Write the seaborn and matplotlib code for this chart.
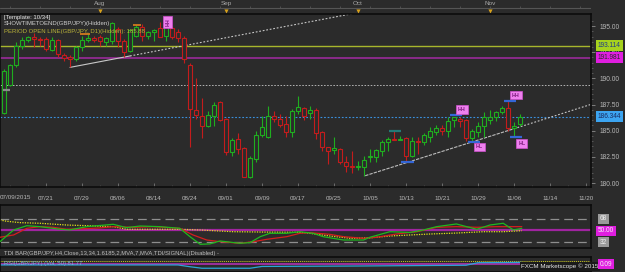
import numpy as np
import pandas as pd
import matplotlib
matplotlib.use('Agg')
import matplotlib.pyplot as plt
import seaborn as sns

# ============================================================
# Data (GBP/JPY daily, FXCM Marketscope)
# ============================================================
first_bar = 1   # bar 0 = 07/09/2015, cut off at the left edge

opens = [186.66, 189.40, 191.31, 193.12, 193.70, 193.92, 193.76, 193.76, 192.71, 193.67,
         192.27, 192.07, 191.85, 192.97, 193.67, 193.82, 193.92, 193.44, 193.60, 194.72,
         193.60, 192.58, 194.08, 194.94, 194.08, 194.40, 194.81, 194.08, 194.81, 194.40,
         193.86, 191.31, 186.98, 186.44, 185.48, 186.44, 187.71, 186.12, 182.93, 184.20,
         183.35, 180.55, 182.30, 184.56, 184.37, 186.44, 186.12, 185.64, 184.84, 186.91,
         187.17, 186.66, 187.01, 184.84, 183.41, 183.20, 183.25, 181.98, 181.66, 181.50,
         181.56, 182.50, 182.52, 183.10, 183.90, 184.20, 184.10, 184.30, 182.60, 184.00,
         183.90, 184.43, 184.84, 185.26, 184.94, 186.00, 186.12, 186.02, 184.30, 184.84,
         185.48, 186.00, 186.28, 186.76, 187.17, 185.26, 185.64]
highs = [190.90, 191.40, 193.44, 193.92, 194.08, 194.33, 193.98, 193.92, 193.92, 193.76,
         192.39, 192.23, 193.12, 194.08, 194.24, 194.08, 194.18, 193.92, 195.35, 194.94,
         193.76, 194.72, 195.13, 195.19, 194.56, 194.72, 195.35, 195.35, 195.00, 194.72,
         194.08, 191.44, 190.03, 188.12, 186.85, 187.71, 187.81, 186.21, 184.30, 184.75,
         183.41, 182.62, 185.00, 186.44, 187.36, 186.85, 186.60, 186.44, 187.07, 188.35,
         187.30, 187.36, 187.14, 184.94, 183.47, 184.43, 183.32, 182.62, 183.10, 182.10,
         182.62, 183.25, 183.25, 184.10, 184.37, 184.94, 184.50, 184.43, 184.37, 184.37,
         184.75, 185.38, 185.58, 185.58, 186.28, 186.34, 186.34, 186.12, 185.16, 185.80,
         186.76, 186.98, 186.91, 187.39, 187.81, 185.80, 186.60]
lows = [186.60, 189.30, 191.12, 192.80, 193.44, 192.97, 193.12, 192.65, 192.58, 192.01,
        191.63, 191.05, 191.69, 192.65, 193.44, 193.44, 193.12, 193.12, 193.28, 192.97,
        192.01, 192.49, 193.92, 193.60, 193.76, 193.60, 193.92, 193.60, 193.80, 193.44,
        191.44, 183.41, 186.12, 184.30, 185.32, 185.48, 185.96, 182.71, 182.62, 182.78,
        180.55, 180.48, 181.98, 184.43, 184.30, 185.80, 185.32, 184.37, 184.37, 186.60,
        186.02, 186.12, 184.20, 183.03, 181.82, 182.77, 181.82, 181.02, 180.93, 181.20,
        180.70, 181.98, 181.98, 182.60, 183.10, 184.10, 184.10, 182.14, 182.52, 182.77,
        183.67, 183.90, 184.62, 184.62, 184.37, 185.38, 185.32, 184.00, 183.90, 184.37,
        184.43, 185.64, 185.90, 186.60, 185.00, 184.43, 185.48]
closes = [190.67, 191.31, 193.12, 193.67, 193.92, 193.76, 193.70, 192.80, 193.67, 192.33,
          191.95, 191.85, 192.97, 193.67, 193.86, 193.70, 193.54, 193.86, 195.26, 193.54,
          192.49, 194.62, 194.88, 194.08, 194.40, 194.62, 193.98, 194.88, 193.95, 193.86,
          191.85, 187.07, 186.53, 185.48, 186.50, 187.49, 186.02, 182.93, 184.14, 183.25,
          180.61, 182.39, 184.59, 185.32, 186.44, 186.12, 185.58, 184.84, 186.91, 187.23,
          186.44, 187.01, 184.81, 183.41, 183.10, 183.30, 181.98, 181.66, 181.50, 181.60,
          182.20, 182.60, 183.16, 183.96, 184.20, 184.10, 184.20, 182.60, 183.99, 183.90,
          184.62, 185.00, 185.23, 184.94, 185.96, 186.27, 185.96, 184.30, 184.94, 185.48,
          186.28, 186.34, 186.76, 187.17, 185.26, 185.48, 186.34]

date_ticks = [8, 14, 20, 26, 32, 38, 44, 50, 56, 62, 68, 74, 80, 86, 92, 98]
date_labels = ['07/21', '07/29', '08/06', '08/14', '08/24', '09/01', '09/09', '09/17',
               '09/25', '10/05', '10/13', '10/21', '10/29', '11/06', '11/14', '11/20']
first_date_label = '07/09/2015'
month_ticks = [17, 38, 60, 82]
month_labels = ['Aug', 'Sep', 'Oct', 'Nov']

price_ticks = [180.0, 182.5, 185.0, 187.5, 190.0, 192.5, 195.0]

level_green = 193.114
level_magenta = 191.981
level_grey = 189.37
level_blue = 186.344

# trend line anchors (bar, price)
upper_tl_x = [12, 22]
upper_tl_y = [191.05, 192.14]
lower_tl_x = [61.2, 86]
lower_tl_y = [180.70, 185.19]

# swing labels
swing_x = [77.3, 80.2, 86.3, 87.3]
swing_y = [187.0, 183.45, 188.4, 183.8]
swing_txt = ['HH', 'HL', 'HH', 'HL']

# short swing marks (bar from, bar to, price)
blue_marks = [(67.2, 69.3, 182.0), (75.3, 77.3, 186.53), (78.3, 80.3, 183.95),
              (84.3, 86.3, 187.84), (85.3, 87.3, 184.43)]
teal_marks = [(65.2, 67.2, 184.97)]
orange_marks = [(13.7, 15.3, 194.24), (22.5, 23.9, 195.13)]

# TDI oscillator (H4 TDI shown on daily axis)
tdi_green_x = [0.33, 2.6, 4.8, 7, 10.3, 12, 14.8, 19.2, 21.4, 23.7, 27, 30.3, 32, 33.7, 35.3,
               37, 40.3, 42, 43.7, 45.3, 48.1, 50.3, 52.5, 54.2, 57.6, 60.9, 62, 65.3, 68.7,
               70.9, 73.1, 76.4, 78.1, 79.8, 82, 84.2, 85.9, 87.3]
tdi_green_y = [32.5, 50.8, 57.5, 56, 52, 51, 56, 59.7, 54.5, 57, 56, 53.4, 40.3, 28.4, 29,
               33.6, 30, 31, 40.3, 45.6, 45.6, 48.1, 45.6, 40.3, 35.1, 35.1, 39.4, 48.1, 47,
               50.8, 56, 60.2, 56, 51.9, 58.6, 61.3, 50.8, 53.4]
tdi_red_x = [0.33, 2.6, 4.8, 7, 9.2, 11.4, 14.8, 17, 19.2, 22.5, 25.9, 30.3, 32.5, 34.8, 37,
             40.3, 42.6, 44.8, 48.1, 50.3, 52, 55.3, 57.6, 60.9, 63.1, 66.4, 69.8, 73.1,
             76.4, 79.8, 83.1, 87.3]
tdi_red_y = [39.4, 43, 53.4, 56, 55, 51.9, 53, 54, 56, 55, 56, 53.4, 43, 35.1, 32.5,
             30, 32.5, 36.2, 40.3, 45.6, 46.6, 44, 40.3, 37.8, 39.4, 44.5, 48.1, 55,
             56, 55, 56, 56]
tdi_yel_x = [0.33, 1.4, 3.7, 7, 11.4, 14.8, 19.2, 21.4, 27, 30.3, 33.7, 39.2, 44.8, 50.3,
             52, 55.3, 58.7, 62, 65.3, 68.7, 72, 76.4, 80.9, 84.2, 87.3]
tdi_yel_y = [66.4, 64.5, 62.3, 61.3, 58.6, 57.5, 56, 51.9, 51.9, 51.9, 50.8, 48.1, 47.5, 47.2,
             45.6, 41.4, 37.8, 38.5, 41.4, 43, 44.5, 46, 48.1, 48.1, 49.7]

# bottom strip (mostly hidden indicator)
vol_cyan_x = [0.33, 30, 32, 34, 42, 44, 60, 78, 80, 87.3]
vol_cyan_y = [0.47, 0.47, 0.35, 0.25, 0.25, 0.37, 0.40, 0.45, 0.62, 0.64]

# ============================================================
# Style
# ============================================================
sns.set_theme(style='dark')
plt.rcParams['font.family'] = ['Liberation Sans', 'DejaVu Sans']

BG = '#2b2b2b'
EDGE = '#0c0c0c'
GREEN = '#1fae1f'
RED = '#c41c1c'
TXT = '#b8b8b8'
W, H = 625, 272
XL = (0.333, 98.83)


def px_rect(x0, y0, x1, y1):
    return [x0 / W, 1 - y1 / H, (x1 - x0) / W, (y1 - y0) / H]


def fx(px):
    return px / W


def fy(py):
    return 1 - py / H


fig = plt.figure(figsize=(6.25, 2.72), dpi=100, facecolor=BG)

# ---------------- top strip: months ----------------
ax_top = fig.add_axes(px_rect(0, 0, 591, 14))
ax_top.set_facecolor(BG)
ax_top.set_xlim(*XL)
ax_top.set_ylim(14, 0)
ax_top.axis('off')
ax_top.axhline(8.3, color='#555555', lw=0.8)
ax_top.vlines(np.arange(2, 99, 5), 6.3, 8.3, color='#555555', lw=0.6)
for m, lab in zip(month_ticks, month_labels):
    ax_top.text(m, 3.6, lab, color='#a8a8a8', fontsize=4.6, ha='center', va='center')
ax_top.scatter(month_ticks, [10.6] * len(month_ticks), marker='v', s=9,
               color='#d8a21c', zorder=3, linewidths=0)

# ---------------- main price panel ----------------
ax = fig.add_axes(px_rect(0, 14, 591, 187))
ax.set_facecolor(BG)
ax.set_xlim(*XL)
ax.set_ylim(179.62, 196.15)
for s in ax.spines.values():
    s.set_color(EDGE)
    s.set_linewidth(1.2)

# levels
ax.axhline(level_green, color='#a7b62c', lw=1.0, zorder=1)
ax.axhline(level_magenta, color='#9a2a9a', lw=1.2, zorder=1)
ax.axhline(level_grey, color='#b4b4b4', lw=0.7, dashes=(1.6, 1.6), zorder=1)
ax.axhline(level_blue, color='#3a8fdc', lw=0.8, dashes=(1.6, 1.6), zorder=1)

# trend lines
k_up = np.polyfit(upper_tl_x, upper_tl_y, 1)
ax.plot(upper_tl_x, upper_tl_y, color='#c8c8c8', lw=0.8, zorder=2)
ext = np.array([upper_tl_x[1], 62])
ax.plot(ext, np.polyval(k_up, ext), color='#c8c8c8', lw=0.8, dashes=(1.6, 1.6), zorder=2)
k_lo = np.polyfit(lower_tl_x, lower_tl_y, 1)
ax.plot(lower_tl_x, lower_tl_y, color='#bdbdbd', lw=0.8, dashes=(3, 1), zorder=2)
ext = np.array([lower_tl_x[1], XL[1]])
ax.plot(ext, np.polyval(k_lo, ext), color='#c8c8c8', lw=0.8, dashes=(1.6, 1.6), zorder=2)

# candles
idx = np.arange(first_bar, first_bar + len(opens))
df = pd.DataFrame({'i': idx, 'open': opens, 'high': highs, 'low': lows, 'close': closes})
df['up'] = df['close'] >= df['open']
for up, col in [(True, GREEN), (False, RED)]:
    d = df[df['up'] == up]
    ax.vlines(d['i'], d['low'], d['high'], color=col, lw=0.8, zorder=3)
    lo = np.minimum(d['open'], d['close'])
    hgt = (d['close'] - d['open']).abs()
    mid = lo + hgt / 2
    hgt = np.maximum(hgt, 0.07)
    ax.bar(d['i'], hgt, bottom=mid - hgt / 2, width=0.52, facecolor=BG,
           edgecolor=col, linewidth=0.8, zorder=4)

# swing marks
for x0, x1, p in blue_marks:
    ax.hlines(p, x0, x1, color='#3466d6', lw=1.6, zorder=5)
for x0, x1, p in teal_marks:
    ax.hlines(p, x0, x1, color='#247a78', lw=1.6, zorder=5)
for x0, x1, p in orange_marks:
    ax.hlines(p, x0, x1, color='#e0801c', lw=1.2, zorder=5)
ax.hlines(188.9, 0.8, 2.0, color='#8a8a8a', lw=1.6, zorder=5)

for x, y, t in zip(swing_x, swing_y, swing_txt):
    ax.text(x, y, t, fontsize=3.8, color='#7a1a7a', ha='center', va='center', zorder=6,
            fontweight='bold',
            bbox=dict(boxstyle='square,pad=0.35', facecolor='#ee80ee', edgecolor='#d050d0', lw=0.5))
ax.text(28.3, 195.4, 'HH', fontsize=3.8, color='#7a1a7a', ha='center', va='center',
        rotation=90, zorder=6, fontweight='bold',
        bbox=dict(boxstyle='square,pad=0.4', facecolor='#ee80ee', edgecolor='#d050d0', lw=0.5))

# axes ticks
ax.yaxis.tick_right()
ax.set_yticks(price_ticks)
ax.set_yticklabels([f'{p:.2f}' for p in price_ticks])
ax.set_yticks(np.arange(180, 196, 0.5), minor=True)
ax.tick_params(axis='y', which='major', colors='#8a8a8a', labelcolor=TXT, labelsize=4.8,
               length=3, width=0.6, pad=3, right=True, direction='out')
ax.tick_params(axis='y', which='minor', colors='#6a6a6a', length=1.5, width=0.5, right=True)
ax.set_xticks(date_ticks)
ax.set_xticklabels(date_labels)
ax.set_xticks(np.arange(2, 99, 3), minor=True)
ax.tick_params(axis='x', which='major', colors='#777777', labelcolor=TXT, labelsize=4.5,
               length=3, width=0.6, pad=6.5, direction='in', bottom=True)
ax.tick_params(axis='x', which='minor', colors='#5a5a5a', length=1.5, width=0.5,
               direction='in', bottom=True)
ax.text(XL[0], -0.058, first_date_label, transform=ax.get_xaxis_transform(),
        fontsize=4.5, color=TXT, ha='left', va='center')
ax.grid(False)

# top-left legend texts
fig.text(fx(4), fy(17), '[Template: 10/34]', color='#e6e6e6', fontsize=4.3, va='center')
fig.text(fx(4), fy(24), 'SHOWTIMETOEND(GBP/JPY)(Hidden)', color='#cfcfcf', fontsize=4.3,
         va='center')
fig.text(fx(4), fy(31), 'PERIOD OPEN LINE(GBP/JPY, D1)(Hidden): 185.88', color='#b9b23a',
         fontsize=4.3, va='center')

# right-side value boxes
def tag(py, s, fc, tc='#1a1a1a', x=598):
    fig.text(fx(x), fy(py), s, color=tc, fontsize=4.7, va='center', ha='left', zorder=10,
             bbox=dict(boxstyle='square,pad=0.25', facecolor=fc, edgecolor='none'))


tag(45.5, f'{level_green:.3f}', '#a6d21e', '#1f3a8a')
tag(57.5, f'{level_magenta:.3f}', '#e01ee0', '#2a2a2a')
tag(116.5, f'{level_blue:.3f}', '#3ca4f0', '#1a2a60')

# ---------------- TDI panel ----------------
ax_osc = fig.add_axes(px_rect(0, 205, 591, 248))
ax_osc.set_facecolor(BG)
ax_osc.set_xlim(*XL)
ax_osc.set_ylim(22.6, 89.9)
for s in ax_osc.spines.values():
    s.set_color(EDGE)
    s.set_linewidth(1.2)
ax_osc.set_xticks([])
ax_osc.set_yticks([])
ax_osc.axhline(50, color='#a024a0', lw=1.6, zorder=1)
for lv in (68, 32):
    ax_osc.axhline(lv, color='#8e8e8e', lw=0.9, dashes=(7, 4), zorder=1)
sns.lineplot(x=tdi_yel_x, y=tdi_yel_y, ax=ax_osc, color='#e2e21c', lw=0.9,
             linestyle=(0, (1, 1)), zorder=2)
sns.lineplot(x=tdi_red_x, y=tdi_red_y, ax=ax_osc, color='#d41e1e', lw=0.9, zorder=3)
sns.lineplot(x=tdi_green_x, y=tdi_green_y, ax=ax_osc, color='#1fb81f', lw=0.9, zorder=4)
ax_osc.set_xlabel('')
ax_osc.set_ylabel('')

tag(219, '68', '#9a9a9a', '#f0f0f0', x=600)
tag(231, '50.00', '#e01ee0', '#f5f5f5', x=598)
tag(242, '32', '#9a9a9a', '#f0f0f0', x=600)

fig.text(fx(4), fy(253), 'TDI BAR(GBP/JPY,H4,Close,13,34,1.6185,2,MVA,7,MVA,TDI/SIGNAL)(Disabled) -',
         color='#bdbdbd', fontsize=4.2, va='center')

# ---------------- bottom strip ----------------
ax_vol = fig.add_axes(px_rect(0, 257, 591, 272))
ax_vol.set_facecolor(BG)
ax_vol.set_xlim(*XL)
ax_vol.set_ylim(0, 1)
for s in ax_vol.spines.values():
    s.set_color(EDGE)
    s.set_linewidth(1.2)
ax_vol.set_xticks([])
ax_vol.set_yticks([])
ax_vol.axhline(0.74, color='#c8c81c', lw=0.7, linestyle=(0, (1, 1)))
ax_vol.axhline(0.55, color='#b030b0', lw=1.2)
sns.lineplot(x=vol_cyan_x, y=vol_cyan_y, ax=ax_vol, color='#2aa6d8', lw=0.9)
ax_vol.set_xlabel('')
ax_vol.set_ylabel('')
fig.text(fx(4), fy(264), 'RSI(GBP/JPY) (Vol, 50) 81.77', color='#7fb4d8', fontsize=4.2,
         va='center')
fig.text(fx(521), fy(266.5), 'FXCM Marketscope \u00a9 2015', color='#e8e8e8', fontsize=4.5,
         va='center', bbox=dict(boxstyle='square,pad=0.2', facecolor='#1a1a1a', edgecolor='none'))
tag(264, '0.09', '#e01ee0', '#f5f5f5', x=600)

fig.savefig('out.png', dpi=100, facecolor=BG)
